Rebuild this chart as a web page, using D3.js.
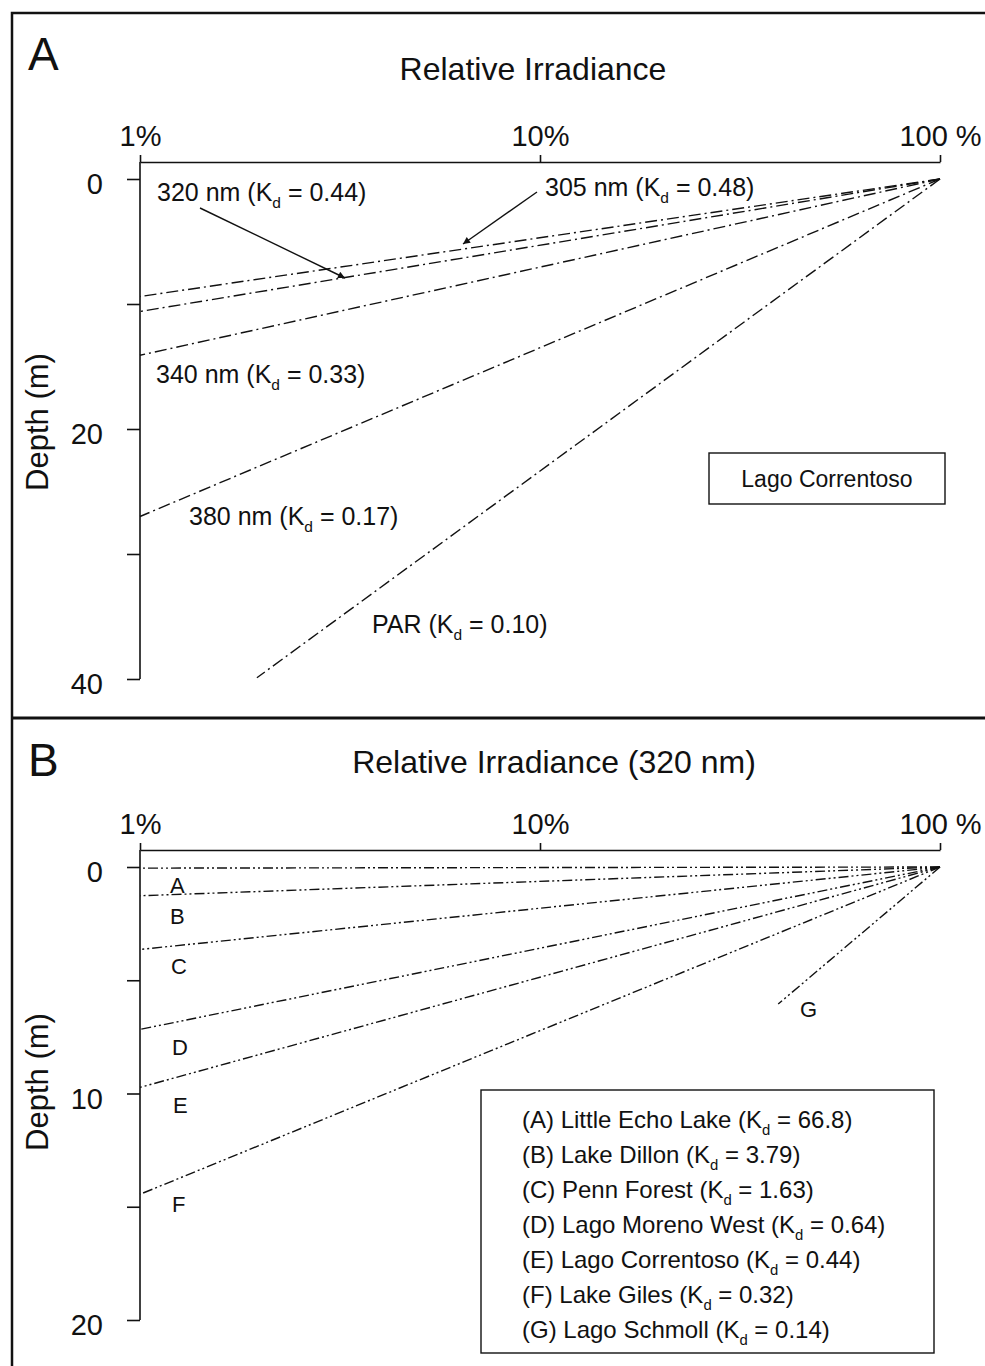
<!DOCTYPE html>
<html>
<head>
<meta charset="utf-8">
<script src="https://cdn.jsdelivr.net/npm/d3@7"></script>
<style>
  body { margin: 0; background: #fff; }
  svg { display: block; }
  text { font-family: "Liberation Sans", Arial, Helvetica, sans-serif; fill: #111; white-space: pre; }
</style>
</head>
<body>
<svg id="chart" width="985" height="1366"></svg>
<script>
// shared x axis (relative irradiance, %)
var irrTicks = [1, 10, 100]
var irrLabels = ['1%', '10%', '100 %']

// panel A: Lago Correntoso, by wavelength
var aSeries = ['305 nm', '320 nm', '340 nm', '380 nm', 'PAR']
var aKd = ['0.48', '0.44', '0.33', '0.17', '0.10']
var aStartIrr = [100, 100, 100, 100, 100]
var aStartDepth = [0, 0, 0, 0, 0]
var aEndIrr = [1, 1, 1, 1, 1.96]
var aEndDepth = [9.4, 10.6, 14.1, 27.0, 39.9]
var aDepthTicks = [0, 10, 20, 30, 40]
var aDepthLabels = ['0', '', '20', '', '40']

// panel B: 320 nm in seven lakes
var bLetters = ['A', 'B', 'C', 'D', 'E', 'F', 'G']
var bLakes = ['Little Echo Lake', 'Lake Dillon', 'Penn Forest', 'Lago Moreno West',
  'Lago Correntoso', 'Lake Giles', 'Lago Schmoll']
var bKd = ['66.8', '3.79', '1.63', '0.64', '0.44', '0.32', '0.14']
var bStartIrr = [100, 100, 100, 100, 100, 100, 100]
var bStartDepth = [0, 0, 0, 0, 0, 0, 0]
var bEndIrr = [1, 1, 1, 1, 1, 1, 39.4]
var bEndDepth = [0.05, 1.27, 3.64, 7.17, 9.73, 14.45, 6.05]
var bDepthTicks = [0, 5, 10, 15, 20]
var bDepthLabels = ['0', '', '10', '', '20']

const ink = '#111'
const svg = d3.select('#chart')

// frame
svg.append('path')
  .attr('d', 'M12,1366 V13 H985')
  .attr('fill', 'none').attr('stroke', ink).attr('stroke-width', 2.5)
svg.append('line')
  .attr('x1', 12).attr('x2', 985).attr('y1', 718).attr('y2', 718)
  .attr('stroke', ink).attr('stroke-width', 3)

svg.append('defs').append('marker')
  .attr('id', 'arrow')
  .attr('viewBox', '0 0 10 10')
  .attr('refX', 10).attr('refY', 5)
  .attr('markerWidth', 10).attr('markerHeight', 7)
  .attr('markerUnits', 'userSpaceOnUse')
  .attr('orient', 'auto')
  .append('path').attr('d', 'M0,0 L10,5 L0,10 Z').attr('fill', ink)

var x = d3.scaleLog().domain([1, 100]).range([140, 940])

// text with a K_d subscript
var kdText = function (sel, prefix, kd, size) {
  sel.append('tspan').text(prefix + '(K')
  sel.append('tspan').attr('font-size', size * 0.62).attr('dy', size * 0.28).text('d')
  sel.append('tspan').attr('dy', -size * 0.28).text(' = ' + kd + ')')
}

var drawAxes = function (g, p) {
  var xAxis = g.append('g')
    .attr('transform', 'translate(0,' + p.axisY + ')')
    .call(d3.axisTop(x).tickValues(irrTicks)
      .tickFormat((d, i) => irrLabels[i])
      .tickSize(7).tickSizeOuter(0).tickPadding(9))
  xAxis.attr('font-size', 29).attr('font-family', null)
  xAxis.select('.domain').attr('stroke', ink).attr('stroke-width', 1.6)
  xAxis.selectAll('.tick line').attr('stroke', ink).attr('stroke-width', 1.6)

  var yAxis = g.append('g')
    .attr('transform', 'translate(140,0)')
    .call(d3.axisLeft(p.y).tickValues(p.ticks)
      .tickFormat((d, i) => p.tickLabels[i])
      .tickSize(13).tickSizeOuter(0).tickPadding(24))
  yAxis.attr('font-size', 29).attr('font-family', null)
  yAxis.select('.domain').remove()
  yAxis.selectAll('.tick line').attr('stroke', ink).attr('stroke-width', 1.6)
  yAxis.selectAll('.tick text').attr('dy', '0.5em')
  g.append('line')
    .attr('x1', 140).attr('x2', 140)
    .attr('y1', p.axisY).attr('y2', p.y.range()[1])
    .attr('stroke', ink).attr('stroke-width', 1.6)

  g.append('text')
    .attr('transform', 'translate(48,' + p.depthLabelY + ') rotate(-90)')
    .attr('text-anchor', 'middle')
    .attr('font-size', 31)
    .text('Depth (m)')

  g.append('text')
    .attr('x', 28).attr('y', p.letterY)
    .attr('font-size', 46)
    .text(p.letter)

  g.append('text')
    .attr('x', p.titleX).attr('y', p.titleY)
    .attr('text-anchor', 'middle')
    .attr('font-size', 32)
    .text(p.title)
}

var drawLines = function (g, y, startIrr, startDepth, endIrr, endDepth, dash) {
  g.selectAll(null)
    .data(endIrr)
    .enter().append('line')
    .attr('x1', (d, i) => x(startIrr[i]))
    .attr('y1', (d, i) => y(startDepth[i]))
    .attr('x2', (d, i) => x(endIrr[i]))
    .attr('y2', (d, i) => y(endDepth[i]))
    .attr('stroke', ink)
    .attr('stroke-width', 1.4)
    .attr('stroke-dasharray', dash)
}

// ---------- panel A ----------
var yA = d3.scaleLinear().domain([0, 40]).range([179, 679])
var gA = svg.append('g').attr('id', 'panelA')
drawAxes(gA, {
  axisY: 162, y: yA, ticks: aDepthTicks, tickLabels: aDepthLabels,
  depthLabelY: 422, letter: 'A', letterY: 70,
  title: 'Relative Irradiance', titleX: 533, titleY: 80
})
drawLines(gA, yA, aStartIrr, aStartDepth, aEndIrr, aEndDepth, '12,4,2,4')

// label spots for panel A, in pixels
var aLabelPos = [[545, 196], [157, 201], [156, 383], [189, 525], [372, 633]]
aSeries.forEach((s, i) => {
  var t = gA.append('text')
    .attr('x', aLabelPos[i][0]).attr('y', aLabelPos[i][1])
    .attr('font-size', 25)
  kdText(t, s + ' ', aKd[i], 25)
})

var aArrows = [[[537, 192], [463, 244]], [[200, 208], [345, 278]]]
aArrows.forEach(a => {
  gA.append('line')
    .attr('x1', a[0][0]).attr('y1', a[0][1])
    .attr('x2', a[1][0]).attr('y2', a[1][1])
    .attr('stroke', ink).attr('stroke-width', 1.4)
    .attr('marker-end', 'url(#arrow)')
})

gA.append('rect')
  .attr('x', 709).attr('y', 453).attr('width', 236).attr('height', 51)
  .attr('fill', 'none').attr('stroke', ink).attr('stroke-width', 1.4)
gA.append('text')
  .attr('x', 827).attr('y', 487)
  .attr('text-anchor', 'middle')
  .attr('font-size', 23)
  .text('Lago Correntoso')

// ---------- panel B ----------
var yB = d3.scaleLinear().domain([0, 20]).range([867, 1320])
var gB = svg.append('g').attr('id', 'panelB')
drawAxes(gB, {
  axisY: 850, y: yB, ticks: bDepthTicks, tickLabels: bDepthLabels,
  depthLabelY: 1082, letter: 'B', letterY: 776,
  title: 'Relative Irradiance (320 nm)', titleX: 554, titleY: 773
})
drawLines(gB, yB, bStartIrr, bStartDepth, bEndIrr, bEndDepth, '10,3,2,3,2,3')

var bLetterPos = [[170, 893], [170, 924], [171, 974], [172, 1055], [173, 1113], [172, 1212], [800, 1017]]
bLetters.forEach((l, i) => {
  gB.append('text')
    .attr('x', bLetterPos[i][0]).attr('y', bLetterPos[i][1])
    .attr('font-size', 22)
    .text(l)
})

gB.append('rect')
  .attr('x', 481).attr('y', 1090).attr('width', 453).attr('height', 263)
  .attr('fill', 'none').attr('stroke', ink).attr('stroke-width', 1.4)
bLakes.forEach((lake, i) => {
  var t = gB.append('text')
    .attr('x', 522).attr('y', 1128 + i * 35)
    .attr('font-size', 24)
  kdText(t, '(' + bLetters[i] + ') ' + lake + ' ', bKd[i], 24)
})
</script>
</body>
</html>
